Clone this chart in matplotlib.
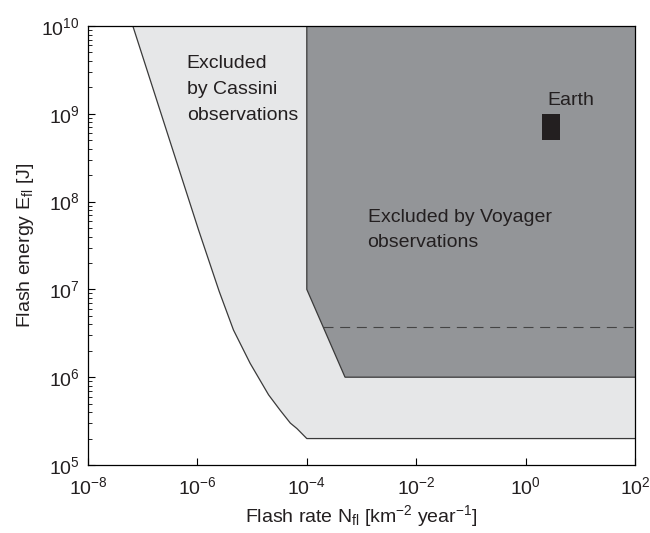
import numpy as np
import matplotlib
matplotlib.use("Agg")
import matplotlib.pyplot as plt
from matplotlib.ticker import LogLocator, NullFormatter, FixedLocator, LogFormatterSciNotation
from matplotlib.patches import Rectangle

plt.rcParams['font.family'] = ['Liberation Sans', 'DejaVu Sans']
plt.rcParams['mathtext.fontset'] = 'custom'
plt.rcParams['mathtext.rm'] = 'Liberation Sans'
plt.rcParams['mathtext.it'] = 'Liberation Sans:italic'
plt.rcParams['mathtext.default'] = 'regular'

# ---- data ----
# Cassini exclusion boundary (flash rate N_fl, flash energy E_fl)
cassini_N = [6.6e-8, 1.05e-6, 2.5e-6, 4.56e-6, 9.2e-6, 2.0e-5, 3.26e-5, 5.0e-5, 6.6e-5, 1e-4, 1e2]
cassini_E = [1e10, 4.75e7, 9.5e6, 3.45e6, 1.44e6, 6.3e5, 4.2e5, 3.0e5, 2.6e5, 2e5, 2e5]
# Voyager exclusion boundary
voyager_N = [1e-4, 1e-4, 5e-4, 1e2]
voyager_E = [1e10, 1e7, 1e6, 1e6]
voyager_dashed_E = 3.76e6
# Earth
earth_N = [2.0, 4.2]
earth_E = [5e8, 1e9]

xlim = (1e-8, 1e2)
ylim = (1e5, 1e10)
xticks = [1e-8, 1e-6, 1e-4, 1e-2, 1e0, 1e2]

light = '#e6e7e8'
dark = '#939598'
edge = '#3a3a3a'
txt = '#231f20'

fig = plt.figure(figsize=(6.5, 5.33), dpi=100)
ax = fig.add_axes([0.1354, 0.1276, 0.8415, 0.8236])
ax.set_xscale('log')
ax.set_yscale('log')
ax.set_xlim(*xlim)
ax.set_ylim(*ylim)

# Cassini region
cpx = list(cassini_N) + [xlim[1], cassini_N[0]]
cpy = list(cassini_E) + [ylim[1], ylim[1]]
ax.fill(cpx, cpy, facecolor=light, edgecolor='none', zorder=1)
ax.plot(cassini_N, cassini_E, color=edge, lw=0.9, zorder=3)

# Voyager region
vpx = list(voyager_N) + [xlim[1]]
vpy = list(voyager_E) + [ylim[1]]
ax.fill(vpx, vpy, facecolor=dark, edgecolor='none', zorder=2)
ax.plot(voyager_N, voyager_E, color=edge, lw=0.9, zorder=3)

# dashed line starting on the diagonal
lx = np.log10(voyager_N[1:3])
ly = np.log10(voyager_E[1:3])
xs = 10 ** np.interp(np.log10(voyager_dashed_E), ly[::-1], lx[::-1])
ax.plot([xs, xlim[1]], [voyager_dashed_E, voyager_dashed_E], color='#444444',
        lw=0.8, dashes=(9, 6), zorder=3)

# Earth
ax.add_patch(Rectangle((earth_N[0], earth_E[0]), earth_N[1] - earth_N[0],
                       earth_E[1] - earth_E[0], facecolor=txt, edgecolor='none', zorder=4))

fs = 14
def P(lx_, ly_):
    return 10 ** lx_, 10 ** ly_

for s, yv in zip(["Excluded", "by Cassini", "observations"], [9.518, 9.226, 8.929]):
    ax.text(*P(-6.194, yv), s, fontsize=fs, color=txt, ha='left', va='baseline', zorder=5)
for s, yv in zip(["Excluded by Voyager", "observations"], [7.771, 7.483]):
    ax.text(*P(-2.889, yv), s, fontsize=fs, color=txt, ha='left', va='baseline', zorder=5)
ax.text(*P(0.820, 9.10), "Earth", fontsize=fs, color=txt, ha='center', va='baseline', zorder=5)

# ticks
ax.xaxis.set_major_locator(FixedLocator(xticks))
ax.xaxis.set_minor_locator(FixedLocator([]))
ax.xaxis.set_major_formatter(LogFormatterSciNotation())
ax.yaxis.set_major_locator(LogLocator(base=10, numticks=10))
ax.yaxis.set_minor_locator(LogLocator(base=10, subs=np.arange(2, 10), numticks=20))
ax.yaxis.set_minor_formatter(NullFormatter())
ax.tick_params(axis='both', which='major', direction='in', length=5, width=0.8,
               labelsize=fs, colors='black', labelcolor=txt, top=False, right=False)
ax.tick_params(axis='y', which='minor', direction='in', length=3, width=0.6, right=False)
ax.tick_params(axis='y', which='major', pad=6)
ax.tick_params(axis='x', which='major', pad=8)

for sp in ax.spines.values():
    sp.set_linewidth(0.9)
    sp.set_color('black')
    sp.set_zorder(6)

ax.set_xlabel(r"Flash rate N$_{\rm fl}$ [km$^{-2}$ year$^{-1}$]", fontsize=fs, color=txt, labelpad=4)
ax.set_ylabel(r"Flash energy E$_{\rm fl}$ [J]", fontsize=fs, color=txt, labelpad=4)

fig.savefig("out.png", dpi=100)
